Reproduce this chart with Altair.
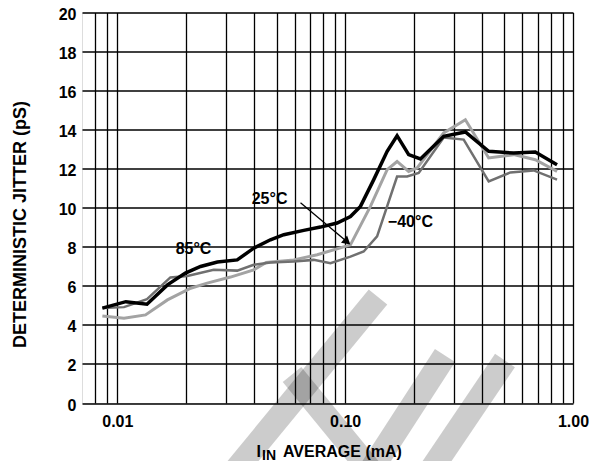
import altair as alt
import pandas as pd

# ---- data ----
x85 = [0.0086, 0.0109, 0.0135, 0.0166, 0.0199, 0.0232, 0.0275, 0.0336, 0.0397, 0.047,
       0.0538, 0.0658, 0.0779, 0.0922, 0.1055, 0.1167, 0.1335, 0.1529, 0.169, 0.190,
       0.214, 0.2707, 0.337, 0.4266, 0.549, 0.683, 0.851]
y85 = [4.86, 5.19, 5.06, 6.05, 6.65, 6.99, 7.22, 7.33, 7.93, 8.36,
       8.62, 8.84, 9.01, 9.22, 9.55, 10.07, 11.44, 12.89, 13.69, 12.72,
       12.5, 13.66, 13.88, 12.89, 12.8, 12.86, 12.2]

x25 = [0.0086, 0.0107, 0.0133, 0.0166, 0.021, 0.0248, 0.0314, 0.0397, 0.045,
       0.0595, 0.0754, 0.1055, 0.1291, 0.1529, 0.169, 0.190, 0.207, 0.2707,
       0.337, 0.4266, 0.549, 0.683, 0.851]
y25 = [4.46, 4.34, 4.51, 5.28, 5.88, 6.14, 6.45, 6.82, 7.2,
       7.33, 7.59, 8.10, 10.07, 11.95, 12.37, 11.86, 12.04, 13.83,
       14.51, 12.55, 12.72, 12.46, 11.86]

xm40 = [0.0086, 0.0107, 0.0135, 0.0171, 0.0203, 0.0265, 0.0336, 0.0397, 0.047,
        0.0595, 0.0728, 0.0862, 0.1055, 0.1206, 0.1381, 0.169, 0.187, 0.2103,
        0.2707, 0.3313, 0.4266, 0.531, 0.672, 0.851]
ym40 = [4.86, 4.91, 5.32, 6.43, 6.51, 6.82, 6.78, 7.08, 7.19,
        7.25, 7.33, 7.16, 7.50, 7.76, 8.53, 11.6, 11.6, 11.78,
        13.6, 13.49, 11.35, 11.81, 11.91, 11.44]

x_ticks = [0.008, 0.009, 0.01, 0.02, 0.03, 0.04, 0.05, 0.06, 0.07, 0.08, 0.09,
           0.1, 0.2, 0.3, 0.4, 0.5, 0.6, 0.7, 0.8, 0.9, 1.0]
y_ticks = [0, 2, 4, 6, 8, 10, 12, 14, 16, 18, 20]

label_text = ["85°C", "25°C", "\u221240°C"]
label_x = [0.0216, 0.0466, 0.1934]
label_y = [7.9, 10.46, 9.28]

arrow_x = [0.0637, 0.1010]
arrow_y = [10.26, 8.3]

FONT = "Liberation Sans"

rows = []
for name, xs, ys in (("85", x85, y85), ("25", x25, y25), ("-40", xm40, ym40)):
    for i, (a, b) in enumerate(zip(xs, ys)):
        rows.append({"series": name, "i": i, "x": a, "y": b})
df = pd.DataFrame(rows)

xscale = alt.Scale(type="log", domain=[0.007, 1.0], nice=False)
yscale = alt.Scale(domain=[0, 20], nice=False, zero=False)

label_expr = ("datum.value == 0.01 ? '0.01' : datum.value == 0.1 ? '0.10' : "
              "datum.value == 1 ? '1.00' : ''")

xaxis = alt.Axis(values=x_ticks, labelExpr=label_expr, title=None, grid=True,
                 gridColor="#000000", gridWidth=1.3, gridOpacity=1, ticks=False,
                 domain=False, labelFont=FONT, labelFontWeight="bold",
                 labelFontSize=16, labelColor="#000", labelPadding=10,
                 labelFlush=False, labelOverlap=False)
yaxis = alt.Axis(values=y_ticks, tickCount=11, title="DETERMINISTIC JITTER (pS)",
                 grid=True, gridColor="#000000", gridWidth=1.3, gridOpacity=1,
                 ticks=False, domain=False, labelFont=FONT, labelFontWeight="bold",
                 labelFontSize=16, labelColor="#000", labelPadding=6,
                 labelOffset=2, labelOverlap=False, labelBound=False,
                 titleFont=FONT, titleFontWeight="bold", titleFontSize=18,
                 titleColor="#000", titleX=-62, titleY=211.5, titleAngle=-90,
                 titleAlign="center", titleBaseline="middle", labelFlush=False)

X = alt.X("x:Q", scale=xscale, axis=xaxis)
Y = alt.Y("y:Q", scale=yscale, axis=yaxis)

base = alt.Chart(df)

# decorative watermark bands (semi-transparent, drawn on top)
wm = pd.DataFrame({"k": [0]})
def band(x1, y1, x2, y2):
    return alt.Chart(wm).mark_rule(color="#000000", opacity=0.2, strokeWidth=24,
                                   strokeCap="butt").encode(
        x=alt.value(x1), y=alt.value(y1), x2=alt.value(x2), y2=alt.value(y2))

bands = [
    band(296, 284.5, 150, 462),
    band(210, 362, 292, 462),
    band(363, 343, 286, 462),
    band(423, 348, 346, 462),
]

def series_line(name, color, width):
    return base.transform_filter(alt.datum.series == name).mark_line(
        color=color, strokeWidth=width, strokeJoin="miter").encode(
        x=X, y=Y, order="i:Q")

l25 = series_line("25", "#a3a3a3", 3)
lm40 = series_line("-40", "#707070", 2.5)
l85 = series_line("85", "#000000", 3.5)

lab = alt.Chart(pd.DataFrame({"t": label_text, "x": label_x, "y": label_y})).mark_text(
    font=FONT, fontWeight="bold", fontSize=16, color="#000").encode(
    x=X, y=Y, text="t:N")

arr = pd.DataFrame({"x": arrow_x, "y": arrow_y, "i": [0, 1]})
arrow_line = alt.Chart(arr).mark_line(color="#000", strokeWidth=1.3).encode(
    x=X, y=Y, order="i:Q")
arrow_head = alt.Chart(arr.iloc[[1]]).mark_point(
    shape="triangle", filled=True, color="#000", size=90, angle=130, opacity=1).encode(
    x=X, y=Y)

def txt(s, x, y, size, align="left"):
    return alt.Chart(wm).mark_text(text=s, font=FONT, fontWeight="bold",
                                   fontSize=size, color="#000", align=align,
                                   baseline="alphabetic").encode(
        x=alt.value(x), y=alt.value(y))

xtitle = [
    txt("I", 174.5, 444.0, 16),
    txt("IN", 180.0, 447.0, 14),
    txt("AVERAGE (mA)", 201.0, 444.0, 16),
]

chart = alt.layer(l25, lm40, l85, arrow_line, arrow_head, lab,
                  *xtitle, *bands).properties(
    width=491, height=390.5,
    autosize=alt.AutoSizeParams(type="none"),
    padding={"left": 74, "top": 4.5, "right": 16, "bottom": 58},
).configure_view(stroke="#000", strokeWidth=2.5).configure(background="white")

chart.save("out.html", embed_options={"renderer": "svg", "actions": False})
